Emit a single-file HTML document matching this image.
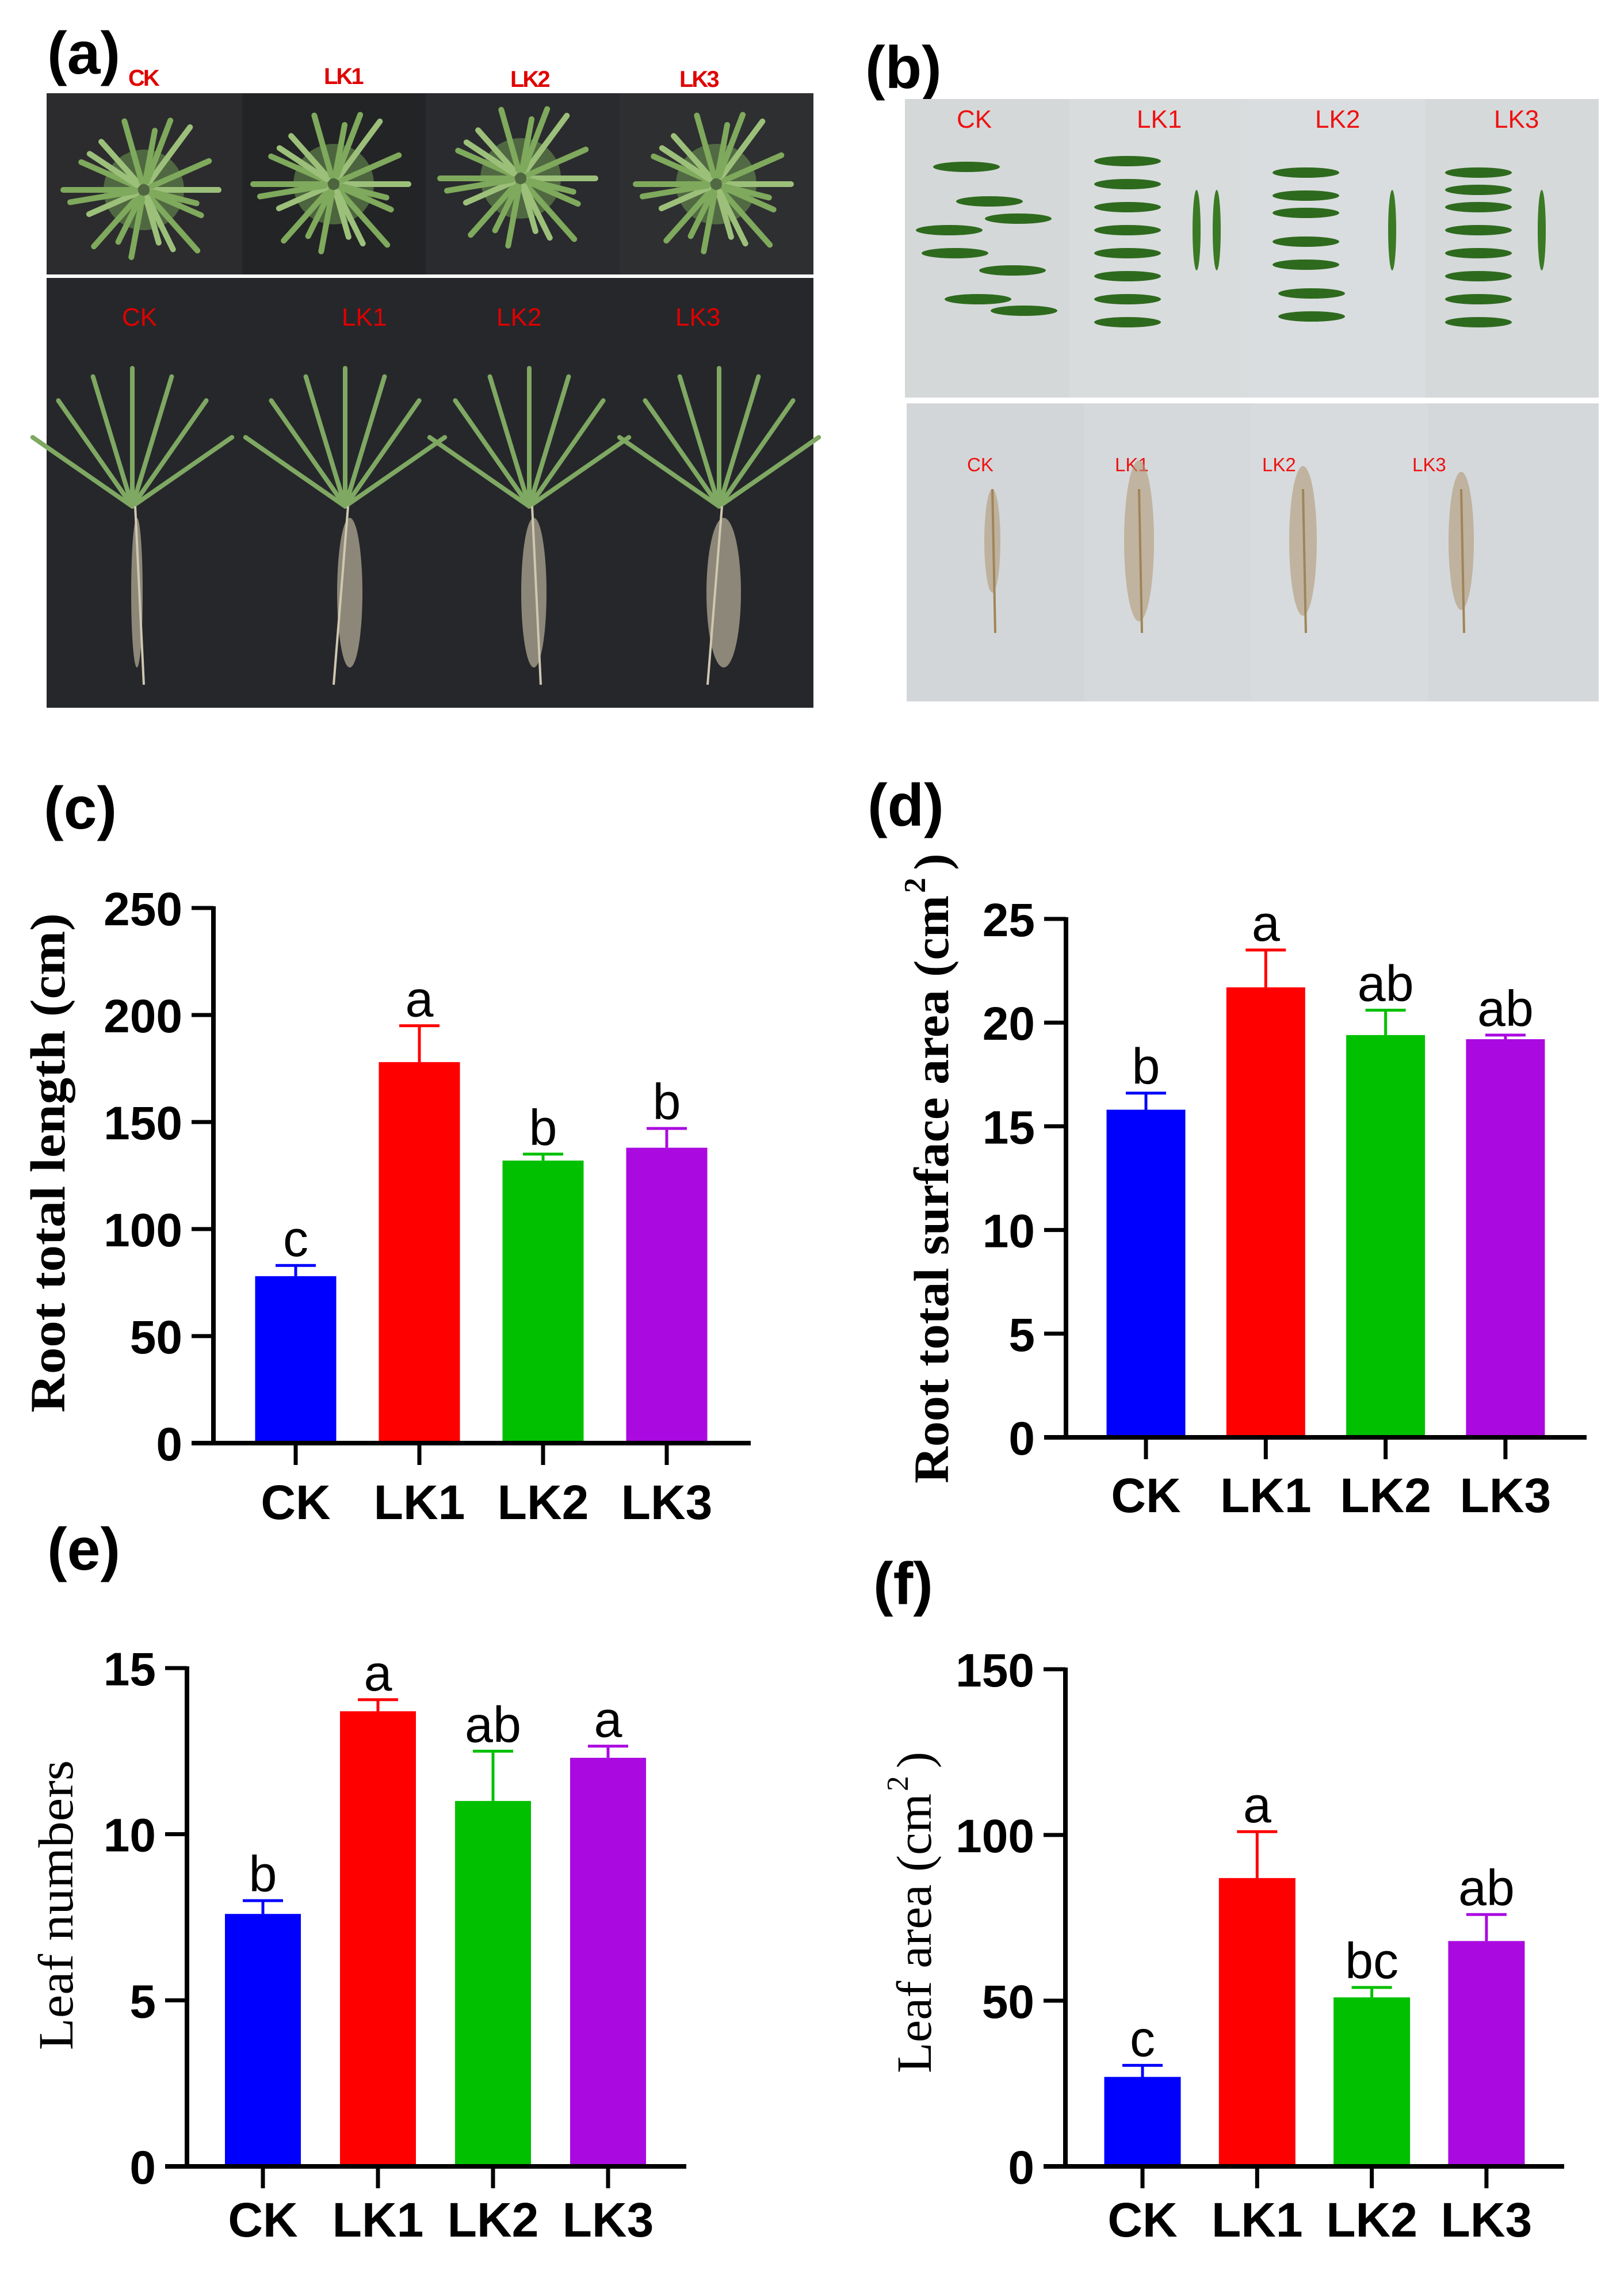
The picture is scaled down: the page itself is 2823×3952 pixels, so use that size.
<!DOCTYPE html>
<html><head><meta charset="utf-8"><title>Root and leaf traits</title>
<style>html,body{margin:0;padding:0;background:#fff}svg{display:block}</style></head>
<body>
<svg id="fig" xmlns="http://www.w3.org/2000/svg" width="2823" height="3952" viewBox="0 0 2823 3952">
<rect x="0" y="0" width="2823" height="3952" fill="#fff"/>
<g font-family="Liberation Sans, Arial, sans-serif" font-weight="bold" font-size="104" fill="#000">
<text x="82" y="128">(a)</text>
<text x="1504" y="153">(b)</text>
<text x="76" y="1440">(c)</text>
<text x="1508" y="1435">(d)</text>
<text x="82" y="2728">(e)</text>
<text x="1518" y="2788">(f)</text>
</g>
<g id="photoA">
<rect x="81" y="162" width="340" height="315" fill="#2c2c2e"/>
<rect x="421" y="162" width="319" height="315" fill="#232426"/>
<rect x="740" y="162" width="337" height="315" fill="#2a2b2e"/>
<rect x="1077" y="162" width="337" height="315" fill="#2e2f31"/>
<rect x="81" y="483" width="1333" height="747" fill="#26272b"/>
<g font-family="Liberation Sans, Arial, sans-serif" font-weight="bold" font-size="40" fill="#e00000" letter-spacing="-3">
<text x="223" y="149">CK</text><text x="563" y="146">LK1</text><text x="887" y="151">LK2</text><text x="1181" y="151">LK3</text></g>
<g font-family="Liberation Sans, Arial, sans-serif" font-size="44" fill="#e00000">
<text x="212" y="566">CK</text><text x="594" y="566">LK1</text><text x="863" y="566">LK2</text><text x="1174" y="566">LK3</text></g>
</g>
<g id="photoB">
<rect x="1573" y="172" width="286" height="519" fill="#d5d8d9"/>
<rect x="1859" y="172" width="308" height="519" fill="#d9dcdd"/>
<rect x="2167" y="172" width="311" height="519" fill="#dadddf"/>
<rect x="2478" y="172" width="301" height="519" fill="#d6d9da"/>
<rect x="1576" y="701" width="309" height="518" fill="#d3d6d8"/>
<rect x="1885" y="701" width="290" height="518" fill="#d6d9db"/>
<rect x="2175" y="701" width="307" height="518" fill="#d8dbdd"/>
<rect x="2482" y="701" width="297" height="518" fill="#d5d8da"/>
<g font-family="Liberation Sans, Arial, sans-serif" font-size="44" fill="#ee1111">
<text x="1663" y="222">CK</text><text x="1976" y="222">LK1</text><text x="2286" y="222">LK2</text><text x="2597" y="222">LK3</text></g>
<g font-family="Liberation Sans, Arial, sans-serif" font-size="33" fill="#ee1111">
<text x="1681" y="819">CK</text><text x="1938" y="819">LK1</text><text x="2194" y="819">LK2</text><text x="2455" y="819">LK3</text></g>
</g>
<g id="charts"></g>
</svg>
<script>
// ---------- photo decorations (not data) ----------
var NS='http://www.w3.org/2000/svg';
function mk(tag,attrs,parent){var e=document.createElementNS(NS,tag);for(var k in attrs)e.setAttribute(k,attrs[k]);parent.appendChild(e);return e;}
var pa=document.getElementById('photoA');
var rosetteCenters=[[250,330],[580,320],[905,310],[1245,320]];
var angs=[0,25,50,75,100,130,155,180,205,230,255,280,305,335,15,65,115,170,215,290];
var lens=[130,110,145,100,125,135,105,140,120,115,130,110,140,125,95,120,105,130,115,135];
rosetteCenters.forEach(function(c){
  mk('circle',{cx:c[0],cy:c[1],r:70,fill:'#6f9a52',opacity:0.55},pa);
  for(var i=0;i<angs.length;i++){var a=angs[i]*Math.PI/180;var l=lens[i];
    mk('line',{x1:c[0]+Math.cos(a)*15,y1:c[1]+Math.sin(a)*15,x2:c[0]+Math.cos(a)*l,y2:c[1]+Math.sin(a)*l*0.95,stroke:i%3?'#7fa95c':'#9cc07a','stroke-width':10,'stroke-linecap':'round'},pa);}
});
var plantX=[230,600,920,1250];
var rootW=[10,22,22,30];
plantX.forEach(function(x,k){
  for(var i=0;i<7;i++){var a=(-150+i*20)*Math.PI/180;
    mk('line',{x1:x,y1:880,x2:x+Math.cos(a)*200,y2:880+Math.sin(a)*240,stroke:'#7fa862','stroke-width':8,'stroke-linecap':'round'},pa);}
  mk('ellipse',{cx:x+8,cy:1030,rx:rootW[k],ry:130,fill:'#b8b09a',opacity:0.7},pa);
  mk('line',{x1:x+5,y1:880,x2:x+(k%2?-20:20),y2:1190,stroke:'#cfc7b0','stroke-width':4},pa);
});
var pb=document.getElementById('photoB');
var leafCols=[[1680,290],[1720,350],[1650,400],[1770,380],[1660,440],[1760,470],[1700,520],[1780,540],
 [1960,280],[1960,320],[1960,360],[1960,400],[1960,440],[1960,480],[1960,520],[1960,560],
 [2270,300],[2270,340],[2270,370],[2270,420],[2270,460],[2280,510],[2280,550],
 [2570,300],[2570,330],[2570,360],[2570,400],[2570,440],[2570,480],[2570,520],[2570,560]];
leafCols.forEach(function(p){mk('ellipse',{cx:p[0],cy:p[1],rx:58,ry:9,fill:'#2e6a1e'},pb);});
[2080,2115,2420,2680].forEach(function(x){mk('ellipse',{cx:x,cy:400,rx:7,ry:70,fill:'#3a7a24'},pb);});
[1725,1980,2265,2540].forEach(function(x,k){
  mk('ellipse',{cx:x,cy:940,rx:[14,26,24,22][k],ry:[90,140,130,120][k],fill:'#b19a78',opacity:0.6},pb);
  mk('line',{x1:x,y1:850,x2:x+5,y2:1100,stroke:'#a08458','stroke-width':4},pb);
});

// ---------- chart data ----------
var categories=['CK','LK1','LK2','LK3'];
var barColors=['#0000ff','#ff0000','#00c000','#aa0ae0'];
var rootLengthMean=[78,178,132,138];
var rootLengthErr=[5,17,3,9];
var rootLengthLetters=['c','a','b','b'];
var rootLengthTicks=[0,50,100,150,200,250];
var surfaceMean=[15.8,21.7,19.4,19.2];
var surfaceErr=[0.8,1.8,1.2,0.2];
var surfaceLetters=['b','a','ab','ab'];
var surfaceTicks=[0,5,10,15,20,25];
var leafNumMean=[7.6,13.7,11.0,12.3];
var leafNumErr=[0.4,0.35,1.5,0.35];
var leafNumLetters=['b','a','ab','a'];
var leafNumTicks=[0,5,10,15];
var leafAreaMean=[27,87,51,68];
var leafAreaErr=[3.5,14,3,8];
var leafAreaLetters=['c','a','bc','ab'];
var leafAreaTicks=[0,50,100,150];

var charts=document.getElementById('charts');
function drawChart(o){
  var g=document.createElementNS(NS,'g');
  
  
  charts.appendChild(g);
  var ymax=o.ticks[o.ticks.length-1];
  function y(v){return o.y0-(o.y0-o.yTop)*v/ymax;}
  function x(i){return o.x0+i*o.step;}
  for(var i=0;i<o.values.length;i++){
    var v=o.values[i],e=o.errs[i],cx=x(i),col=barColors[i];
    var r=mk('rect',{x:cx-o.bw/2,y:y(v),width:o.bw,height:o.y0-y(v),fill:col},g);
    
    
    var l=mk('line',{x1:cx,y1:y(v),x2:cx,y2:y(v+e),stroke:col,'stroke-width':5},g);
    
    
    mk('line',{x1:cx-35,y1:y(v+e),x2:cx+35,y2:y(v+e),stroke:col,'stroke-width':5},g);
    var t=mk('text',{x:cx,y:y(v+e)-16,'text-anchor':'middle','font-family':'Liberation Sans, Arial, sans-serif','font-size':88},g);
    t.textContent=o.letters[i];
    
    
    mk('line',{x1:cx,y1:o.y0,x2:cx,y2:o.y0+38,stroke:'#000','stroke-width':7},g);
    var c=mk('text',{x:cx,y:o.labY,'text-anchor':'middle','font-family':'Liberation Sans, Arial, sans-serif','font-weight':'bold','font-size':84},g);
    c.textContent=categories[i];
    
    
  }
  var ya=mk('line',{x1:o.axisX,y1:o.yTop-3,x2:o.axisX,y2:o.y0+3,stroke:'#000','stroke-width':8},g);
  
  
  var xa=mk('line',{x1:o.axisX-38,y1:o.y0,x2:o.xEnd,y2:o.y0,stroke:'#000','stroke-width':8},g);
  
  
  o.ticks.forEach(function(tv){
    mk('line',{x1:o.axisX-38,y1:y(tv),x2:o.axisX,y2:y(tv),stroke:'#000','stroke-width':7},g);
    var t=mk('text',{x:o.axisX-54,y:y(tv)+30,'text-anchor':'end','font-family':'Liberation Sans, Arial, sans-serif','font-weight':'bold','font-size':82},g);
    t.textContent=String(tv);
    
    
  });
  var tg=mk('g',{transform:'translate('+o.tBase+','+o.tStart+') rotate(-90)'},g);
  
  
  var tt=mk('text',{x:0,y:0,'font-family':'Liberation Serif, Times New Roman, serif','font-weight':o.tWeight,'font-size':o.tSize,textLength:o.tLen,lengthAdjust:'spacingAndGlyphs'},tg);
  tt.textContent=o.title;
  if(o.sup){
    var s=mk('text',{x:o.tLen+4,y:-40,'font-family':'Liberation Serif, Times New Roman, serif','font-weight':o.tWeight,'font-size':o.tSize*0.62},tg);
    s.textContent='2';
    var p=mk('text',{x:o.tLen+44,y:0,'font-family':'Liberation Serif, Times New Roman, serif','font-weight':o.tWeight,'font-size':o.tSize},tg);
    p.textContent=')';
  }
}
drawChart({name:'chart-root-total-length',values:rootLengthMean,errs:rootLengthErr,letters:rootLengthLetters,ticks:rootLengthTicks,
  axisX:371,yTop:1578,y0:2508,xEnd:1305,x0:514,step:215,bw:141,labY:2640,
  title:'Root total length (cm)',tBase:112,tStart:2455,tLen:868,tSize:86,tWeight:'bold'});
drawChart({name:'chart-root-surface-area',values:surfaceMean,errs:surfaceErr,letters:surfaceLetters,ticks:surfaceTicks,
  axisX:1853,yTop:1597,y0:2498,xEnd:2758,x0:1992,step:208.3,bw:137,labY:2628,
  title:'Root total surface area (cm',sup:true,tBase:1648,tStart:2578,tLen:1022,tSize:86,tWeight:'bold'});
drawChart({name:'chart-leaf-numbers',values:leafNumMean,errs:leafNumErr,letters:leafNumLetters,ticks:leafNumTicks,
  axisX:325,yTop:2899,y0:3765,xEnd:1193,x0:457,step:200,bw:132,labY:3887,
  title:'Leaf numbers',tBase:126,tStart:3563,tLen:504,tSize:86,tWeight:'normal'});
drawChart({name:'chart-leaf-area',values:leafAreaMean,errs:leafAreaErr,letters:leafAreaLetters,ticks:leafAreaTicks,
  axisX:1852,yTop:2901,y0:3765,xEnd:2719,x0:1986,step:199.3,bw:133,labY:3887,
  title:'Leaf area (cm',sup:true,tBase:1618,tStart:3603,tLen:486,tSize:86,tWeight:'normal'});
</script>
</body></html>
